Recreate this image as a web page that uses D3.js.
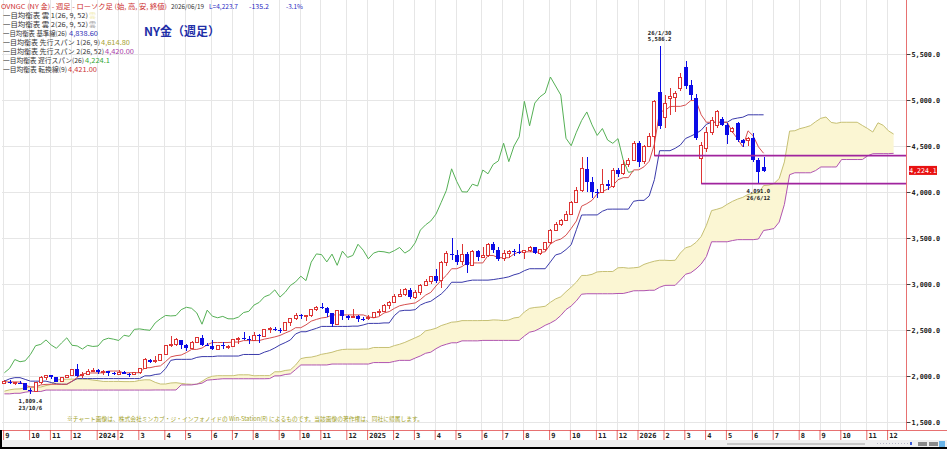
<!DOCTYPE html>
<html>
<head>
<meta charset="utf-8">
<script src="https://cdn.jsdelivr.net/npm/d3@7"></script>
<style>
  body { margin: 0; background: #fff; }
  svg { display: block; }
</style>
</head>
<body>
<script>
// weekly candles, 2023/9/1 .. 2026/6/19
const open = [
  1914,1940,1919,1924,1921,1849,1833,1932,1981,2006,
  1992,1940,1981,2002,2072,2005,2020,2053,2063,2045,
  2049,2029,2018,2039,2024,2013,2035,2083,2179,2155,
  2165,2233,2329,2344,2392,2337,2301,2360,2415,2334,
  2327,2293,2333,2321,2326,2392,2411,2400,2386,2443,
  2431,2507,2512,2503,2497,2577,2622,2658,2653,2657,
  2721,2747,2736,2685,2563,2716,2650,2633,2648,2622,
  2621,2640,2690,2703,2771,2800,2861,2883,2936,2858,
  2910,2984,3023,3085,3037,3237,3327,3319,3240,3325,
  3203,3357,3289,3310,3432,3368,3274,3336,3355,3350,
  3337,3363,3397,3336,3371,3448,3586,3643,3685,3760,
  3887,4018,4252,4113,4002,4000,4085,4065,4239,4198,
  4300,4338,4530,4330,4500,4600,5090,4815,5020,5030,
  5130,5362,5163,5020,4359,4470,4650,4723,4790,4723,
  4660,4750,4565,4560,4583,4348,4275
];
const high = [
  1953,1952,1933,1947,1926,1866,1935,1997,2009,2010,
  1993,1993,2008,2075,2135,2048,2071,2088,2079,2062,
  2058,2042,2065,2052,2032,2042,2088,2195,2183,2222,
  2236,2330,2431,2418,2392,2352,2378,2422,2450,2364,
  2387,2335,2368,2340,2392,2424,2483,2433,2477,2459,
  2509,2531,2528,2523,2581,2626,2685,2672,2664,2722,
  2758,2790,2750,2690,2721,2721,2665,2726,2664,2639,
  2665,2697,2726,2786,2817,2886,2942,2955,2956,2930,
  3005,3057,3087,3167,3245,3357,3500,3368,3435,3345,
  3366,3365,3403,3446,3452,3398,3366,3375,3377,3439,
  3363,3409,3400,3379,3453,3600,3674,3707,3791,3897,
  4059,4380,4381,4161,4030,4245,4132,4256,4264,4353,
  4374,4550,4550,4510,4645,5000,5586.2,5054,5130,5100,
  5290,5424,5217,5060,4546,4710,4818,4890,4815,4750,
  4710,4765,4580,4601,4638,4366,4384
];
const low = [
  1912,1915,1901,1913,1846,1809.4,1832,1908,1953,1970,
  1931,1932,1976,1995,1990,1973,2016,2040,2017,2013,
  2002,2010,2016,2017,1984,2010,2024,2079,2146,2146,
  2158,2229,2319,2331,2291,2277,2291,2354,2325,2326,
  2287,2287,2295,2293,2319,2351,2393,2353,2381,2364,
  2427,2470,2492,2472,2485,2546,2614,2625,2603,2642,
  2709,2729,2643,2537,2563,2605,2614,2632,2583,2596,
  2614,2632,2656,2700,2730,2790,2860,2875,2833,2832,
  2880,2982,3000,3015,2957,3194,3260,3202,3203,3120,
  3200,3245,3280,3294,3340,3255,3247,3283,3309,3325,
  3268,3347,3331,3311,3364,3436,3578,3627,3683,3758,
  3885,4000,4004,3930,3931,3998,4022,4040,4164,4180,
  4271,4335,4275,4305,4485,4395,4680,4700,4837,4870,
  5100,5120,5000,4560,4091,4440,4620,4700,4720,4527,
  4640,4546,4490,4500,4329,4091,4220
];
const close = [
  1940,1919,1924,1921,1849,1833,1932,1981,2006,1992,
  1940,1981,2002,2072,2005,2020,2053,2063,2045,2049,
  2029,2018,2039,2024,2013,2035,2083,2179,2155,2165,
  2233,2329,2344,2392,2337,2301,2360,2415,2334,2327,
  2293,2333,2321,2326,2392,2411,2400,2386,2443,2431,
  2507,2512,2503,2497,2577,2622,2658,2653,2657,2721,
  2747,2736,2685,2563,2716,2650,2633,2648,2622,2621,
  2640,2690,2703,2771,2800,2861,2883,2936,2858,2910,
  2984,3023,3085,3037,3237,3327,3319,3240,3325,3203,
  3357,3289,3310,3432,3368,3274,3336,3355,3350,3337,
  3363,3397,3336,3371,3448,3586,3643,3685,3760,3887,
  4018,4252,4113,4002,4000,4085,4065,4239,4198,4300,
  4338,4530,4330,4500,4600,4985,4720,4967,5035,5076,
  5250,5152,5054,4584,4503,4650,4777,4870,4730,4615,
  4690,4565,4529,4580,4348,4214,4223.7
];

// 転換線 / 基準線, one value per candle
const tenkan = [
  1936,1936,1936,1934,1900,1881,1881,1903,1909,1910,
  1910,1910,1910,1942,1984,2022,2033,2033,2033,2034,
  2054,2054,2054,2031,2036,2036,2036,2090,2090,2103,
  2110,2157,2208,2221,2228,2255,2289,2289,2304,2340,
  2364,2364,2364,2364,2369,2369,2385,2385,2385,2385,
  2401,2412,2425,2441,2467,2490,2525,2525,2556,2596,
  2615,2631,2638,2664,2664,2664,2664,2664,2664,2664,
  2644,2632,2645,2685,2700,2735,2763,2776,2785,2794,
  2831,2879,2909,2979,3039,3095,3166,3166,3190,3229,
  3229,3229,3229,3310,3310,3286,3286,3286,3326,3349,
  3350,3350,3350,3343,3350,3434,3471,3488,3530,3604,
  3685,3846,3873,3909,3980,4004,4032,4070,4133,4156,
  4156,4240,4241,4274,4334,4520,4875,4883,4929,4931,
  4931,4946,4994,4994,4839,4758,4758,4758,4758,4758,
  4654,4576,4491,4665,4610,4491,4421
];
const kijun = [
  1944,1969,1982,1982,1963,1944,1944,1944,1944,1929,
  1915,1910,1910,1942,1972,1972,1972,1972,1972,1972,
  1972,1972,1972,1972,1972,1972,1972,2002,2002,2016,
  2023,2081,2170,2181,2181,2181,2182,2202,2211,2211,
  2211,2217,2217,2217,2217,2217,2234,2234,2234,2234,
  2259,2277,2305,2338,2363,2392,2457,2481,2481,2500,
  2518,2539,2539,2539,2539,2539,2539,2542,2542,2555,
  2571,2572,2572,2577,2577,2657,2706,2714,2714,2721,
  2771,2797,2812,2852,2891,2947,3019,3019,3019,3032,
  3042,3042,3042,3042,3048,3057,3066,3078,3100,3115,
  3145,3166,3166,3166,3166,3240,3316,3332,3374,3427,
  3590,3750,3751,3751,3751,3791,3813,3814,3814,3814,
  3814,3899,3909,3909,3957,4134,4449,4449,4449,4475,
  4511,4582,4607,4635,4672,4736,4758,4758,4758,4758,
  4792,4804,4813,4839,4839,4839,4839
];

// 先行スパン, index 0 = first candle, runs on 25 weeks past the last candle
const spanA = [
  1835,1850,1858,1860,1871,1879,1880,1880,1896,1908,
  1955,1965,1965,1966,1967,1966,1964,1956,1949,1941,
  1941,1941,1941,1939,1939,1940,1952,1959,1958,1931,
  1913,1913,1924,1927,1920,1913,1910,1910,1942,1978,
  1997,2003,2003,2003,2003,2013,2013,2013,2002,2004,
  2004,2004,2046,2046,2060,2067,2119,2189,2201,2205,
  2218,2236,2246,2258,2276,2288,2291,2291,2291,2293,
  2293,2310,2310,2310,2310,2330,2345,2365,2390,2415,
  2441,2491,2503,2519,2548,2566,2585,2589,2602,2602,
  2602,2602,2603,2603,2610,2608,2602,2609,2631,2639,
  2696,2735,2745,2750,2758,2801,2838,2861,2916,2965,
  3021,3093,3093,3105,3131,3136,3136,3136,3176,3179,
  3172,3176,3182,3213,3232,3248,3258,3258,3255,3258,
  3337,3394,3410,3452,3516,3638,3798,3812,3830,3866,
  3898,3923,3942,3974,3985,3985,4070,4075,4092,4146,
  4327,4662,4666,4689,4703,4721,4764,4801,4815,4756,
  4747,4758,4758,4758,4758,4723,4690,4652,4752,4725,
  4665,4630
];
const spanB = [
  1806,1806,1812,1812,1824,1832,1832,1832,1847,1847,
  1847,1847,1847,1847,1847,1847,1847,1847,1847,1847,
  1847,1847,1847,1847,1847,1847,1847,1847,1847,1848,
  1848,1848,1848,1848,1903,1903,1903,1912,1922,1955,
  1960,1965,1970,1970,1970,1970,1970,1970,1970,1970,
  1970,1972,2002,2002,2016,2023,2070,2120,2120,2120,
  2120,2120,2120,2130,2130,2130,2130,2130,2130,2130,
  2130,2146,2146,2146,2146,2159,2170,2170,2170,2195,
  2218,2247,2259,2297,2327,2345,2361,2361,2382,2382,
  2382,2382,2387,2387,2387,2387,2387,2387,2387,2387,
  2435,2476,2490,2518,2551,2576,2608,2658,2722,2761,
  2817,2889,2894,2894,2894,2894,2894,2894,2897,2897,
  2910,2926,2927,2927,2932,2932,2964,2985,2986,2986,
  3043,3106,3122,3164,3217,3298,3459,3459,3459,3459,
  3472,3482,3482,3482,3482,3489,3582,3591,3603,3673,
  3865,4188,4209,4209,4209,4209,4233,4272,4272,4272,
  4272,4353,4353,4353,4353,4353,4393,4416,4417,4417,
  4417,4420
];

// first week of each month (candle index) and its label
const monthTicks = [
  [0,"9"],[5,"10"],[9,"11"],[13,"12"],[18,"2024"],[22,"2"],[26,"3"],[31,"4"],[35,"5"],[40,"6"],
  [44,"7"],[48,"8"],[53,"9"],[57,"10"],[61,"11"],[66,"12"],[70,"2025"],[75,"2"],[79,"3"],[83,"4"],
  [87,"5"],[92,"6"],[96,"7"],[100,"8"],[105,"9"],[109,"10"],[114,"11"],[118,"12"],[122,"2026"],[127,"2"],
  [131,"3"],[135,"4"],[139,"5"],[144,"6"],[148,"7"],[153,"8"],[157,"9"],[161,"10"],[166,"11"],[170,"12"]
];
const yTicks = [1500, 2000, 2500, 3000, 3500, 4000, 4500, 5000, 5500];

// horizontal lines drawn on the chart: from candle, price
const supportLines = [
  { from: 125, value: 4395 },
  { from: 134, value: 4091 }
];

// high / low notes
const marks = [
  { i: 126, value: 5586.2, text: ["26/1/30", "5,586.2"], above: true },
  { i: 145, value: 4091.0, text: ["4,091.0", "26/6/12"], above: false },
  { i: 5, value: 1809.4, text: ["1,809.4", "23/10/6"], above: false }
];

const headerTitle = "OVNGC (NY 金) - 週足 - ローソク足 (始, 高, 安, 終値)";
const headerDate = "2026/06/19";
const headerLast = ["L=4,223.7", "-135.2", "-3.1%"];
const legendRows = [
  { label: "一目均衡表 雲 1(26, 9, 52)", value: "雲", color: "#f3eebc" },
  { label: "一目均衡表 雲 2(26, 9, 52)", value: "雲", color: "#aaaaaa" },
  { label: "一目均衡表 基準線(26)", value: "4,838.60", color: "#3535b8" },
  { label: "一目均衡表 先行スパン 1(26, 9)", value: "4,614.80", color: "#a8a232" },
  { label: "一目均衡表 先行スパン 2(26, 52)", value: "4,420.00", color: "#a83aa8" },
  { label: "一目均衡表 遅行スパン(26)", value: "4,224.1", color: "#35a835" },
  { label: "一目均衡表 転換線(9)", value: "4,421.00", color: "#cc3535" }
];
const lastLabel = "4,224.1";
const footer = "※チャート画像は、株式会社ミンカブ・ジ・インフォノイドの Win-Station(R) によるものです。当該画像の著作権は、同社に帰属します。";

function drawChart() {
  const W = 947, H = 449;
  const RED = "#dd3434", BLUE = "#0b0be6";
  const mono = "'DejaVu Sans Mono', monospace";

  const svg = d3.select("body").append("svg")
    .attr("width", W).attr("height", H)
    .attr("font-family", "'Noto Sans CJK JP', 'Noto Sans', sans-serif");

  svg.append("rect").attr("width", W).attr("height", H).attr("fill", "#fff");

  const x = d3.scaleLinear().domain([0, 171]).range([4.4, 893.6]);
  const y = d3.scaleLinear().domain([1500, 5500]).range([422, 54]);
  const px = v => Math.round(v) + 0.5;

  // grid
  const grid = svg.append("g").attr("stroke", "#e6e6e6");
  grid.selectAll("line.h").data(yTicks).join("line").attr("class", "h")
    .attr("x1", 2).attr("x2", 906)
    .attr("y1", d => px(y(d))).attr("y2", d => px(y(d)));
  grid.selectAll("line.v").data(monthTicks).join("line").attr("class", "v")
    .attr("x1", d => px(x(d[0]) - 1.3)).attr("x2", d => px(x(d[0]) - 1.3))
    .attr("y1", 0).attr("y2", 430);

  // cloud
  const cloud = d3.area()
    .x((d, i) => x(i))
    .y0((d, i) => y(spanB[i]))
    .y1(d => y(d));
  svg.append("path").datum(spanA).attr("d", cloud).attr("fill", "#fbf6d3");

  const line = d3.line().x((d, i) => x(i)).y(d => y(d));
  const addLine = (data, color) => svg.append("path").datum(data)
    .attr("d", line).attr("fill", "none").attr("stroke", color).attr("stroke-width", 1);

  addLine(spanA, "#c6c074");
  addLine(spanB, "#b055b0");
  addLine(close.slice(25), "#55b055");   // 遅行スパン: close drawn 25 weeks back
  addLine(kijun, "#3a3aaa");
  addLine(tenkan, "#d65050");

  // candles
  const idx = d3.range(close.length);
  const up = i => close[i] >= open[i];
  const cg = svg.append("g").attr("shape-rendering", "crispEdges");
  cg.selectAll("line").data(idx).join("line")
    .attr("x1", i => px(x(i))).attr("x2", i => px(x(i)))
    .attr("y1", i => y(high[i])).attr("y2", i => y(low[i]))
    .attr("stroke", i => up(i) ? RED : BLUE);
  cg.selectAll("rect").data(idx).join("rect")
    .attr("x", i => up(i) ? Math.round(x(i)) - 1.5 : Math.round(x(i)) - 2)
    .attr("width", i => up(i) ? 3 : 4)
    .attr("y", i => y(Math.max(open[i], close[i])))
    .attr("height", i => Math.max(1, Math.abs(y(open[i]) - y(close[i]))))
    .attr("fill", i => up(i) ? "#fff" : BLUE)
    .attr("stroke", i => up(i) ? RED : "none");

  // drawn lines
  svg.append("g").selectAll("line").data(supportLines).join("line")
    .attr("x1", d => x(d.from)).attr("x2", 906)
    .attr("y1", d => y(d.value)).attr("y2", d => y(d.value))
    .attr("stroke", "#a0249e").attr("stroke-width", 1.6);

  // notes on high / low
  const notes = svg.append("g").attr("font-family", mono).attr("font-size", 5.6)
    .attr("font-weight", "bold").attr("fill", "#222").attr("text-anchor", "middle");
  marks.forEach(m => {
    const base = m.above ? y(m.value) - 11.5 : y(m.value) + 9.5;
    m.text.forEach((t, k) => {
      notes.append("text").attr("x", x(m.i)).attr("y", base + k * 6.5).text(t);
    });
  });

  // right axis
  const gy = svg.append("g").attr("transform", "translate(906.5,0)")
    .call(d3.axisRight(y).tickValues(yTicks).tickFormat(d3.format(",.1f")).tickSize(4).tickPadding(1));
  gy.select(".domain").remove();
  gy.attr("font-family", mono).attr("font-size", 6.8).attr("font-weight", "bold");
  gy.selectAll(".tick line").attr("stroke", "#444");
  gy.selectAll(".tick text").attr("fill", "#222");

  // bottom axis
  const gx = svg.append("g").attr("transform", "translate(-1.3,430)")
    .call(d3.axisBottom(x).tickValues(monthTicks.map(d => d[0]))
      .tickFormat((d, k) => monthTicks[k][1]).tickSize(10).tickPadding(0));
  gx.select(".domain").remove();
  gx.attr("font-family", mono).attr("font-size", 7).attr("font-weight", "bold");
  gx.selectAll(".tick line").attr("stroke", RED).attr("stroke-opacity", 0.75);
  gx.selectAll(".tick text").attr("fill", "#222").attr("text-anchor", "start")
    .attr("x", 1.6).attr("y", 8.2).attr("dy", null);

  svg.append("line").attr("x1", 906.5).attr("x2", 906.5).attr("y1", 0).attr("y2", 430)
    .attr("stroke", RED).attr("stroke-opacity", 0.7);
  svg.append("line").attr("x1", 0).attr("x2", W).attr("y1", 430.5).attr("y2", 430.5)
    .attr("stroke", RED).attr("stroke-opacity", 0.7);

  // last price box
  const ly = y(close[close.length - 1]) - 1;
  svg.append("rect").attr("x", 909).attr("y", ly - 4.5).attr("width", 28).attr("height", 9)
    .attr("fill", "#e81212");
  svg.append("text").attr("x", 923).attr("y", ly + 2.3).attr("text-anchor", "middle")
    .attr("font-family", mono).attr("font-size", 6.5).attr("fill", "#fff").text(lastLabel);

  // header and legend
  const put = (str, tx, ty, w, color, size) => svg.append("text")
    .attr("x", tx).attr("y", ty).attr("font-size", size || 6.5).attr("fill", color)
    .attr("textLength", w).attr("lengthAdjust", "spacingAndGlyphs").text(str);

  put(headerTitle, 1, 8.5, 166, "#cc2a2a");
  put(headerDate, 171, 8.5, 33, "#333");
  put(headerLast[0], 209, 8.5, 29, "#2b2bc4");
  put(headerLast[1], 249, 8.5, 20, "#2b2bc4");
  put(headerLast[2], 286, 8.5, 17, "#2b2bc4");

  const layout = [[85, 89, 7], [85, 89, 7], [64, 69, 29], [97, 101, 29], [101, 105, 29], [81, 85, 25], [64, 68, 29]];
  legendRows.forEach((r, k) => {
    const ty = 17.5 + k * 9;
    put(r.label, 3, ty, layout[k][0], "#333");
    put(r.value, layout[k][1], ty, layout[k][2], r.color);
  });

  svg.append("text").attr("x", 144).attr("y", 36).attr("font-size", 12).attr("font-weight", "bold")
    .attr("fill", "#1f2fa8").attr("textLength", 76).attr("lengthAdjust", "spacingAndGlyphs")
    .text("NY金（週足）");

  put(footer, 67, 421, 356, "#a3a32c", 6);

  // bottom strip with scroll bar
  svg.append("rect").attr("x", 0).attr("y", 440).attr("width", W).attr("height", 7).attr("fill", "#efefef");
  svg.append("rect").attr("x", 727).attr("y", 443).attr("width", 138).attr("height", 2).attr("fill", "#c9c9c9");
  svg.append("line").attr("x1", 877).attr("x2", 909).attr("y1", 443.5).attr("y2", 443.5)
    .attr("stroke", "#b8b8c8").attr("stroke-dasharray", "1,2");
  svg.append("rect").attr("x", 910).attr("y", 442).attr("width", 2).attr("height", 3).attr("fill", "#3b5bd8");
  svg.append("rect").attr("x", 918).attr("y", 442).attr("width", 9).attr("height", 4).attr("fill", "#8a8a8a");
  svg.append("rect").attr("x", 929).attr("y", 442).attr("width", 9).attr("height", 4).attr("fill", "#8a8a8a");
  svg.append("rect").attr("x", 939).attr("y", 441).attr("width", 6).attr("height", 6).attr("fill", "#6ab4e8");

  // frame round the bottom panel
  svg.append("line").attr("x1", 1).attr("x2", 1).attr("y1", 430).attr("y2", H).attr("stroke", "#000").attr("stroke-width", 2);
  svg.append("line").attr("x1", 0).attr("x2", W).attr("y1", 448).attr("y2", 448).attr("stroke", "#000").attr("stroke-width", 2);
}

document.addEventListener("DOMContentLoaded", drawChart);
</script>
</body>
</html>
